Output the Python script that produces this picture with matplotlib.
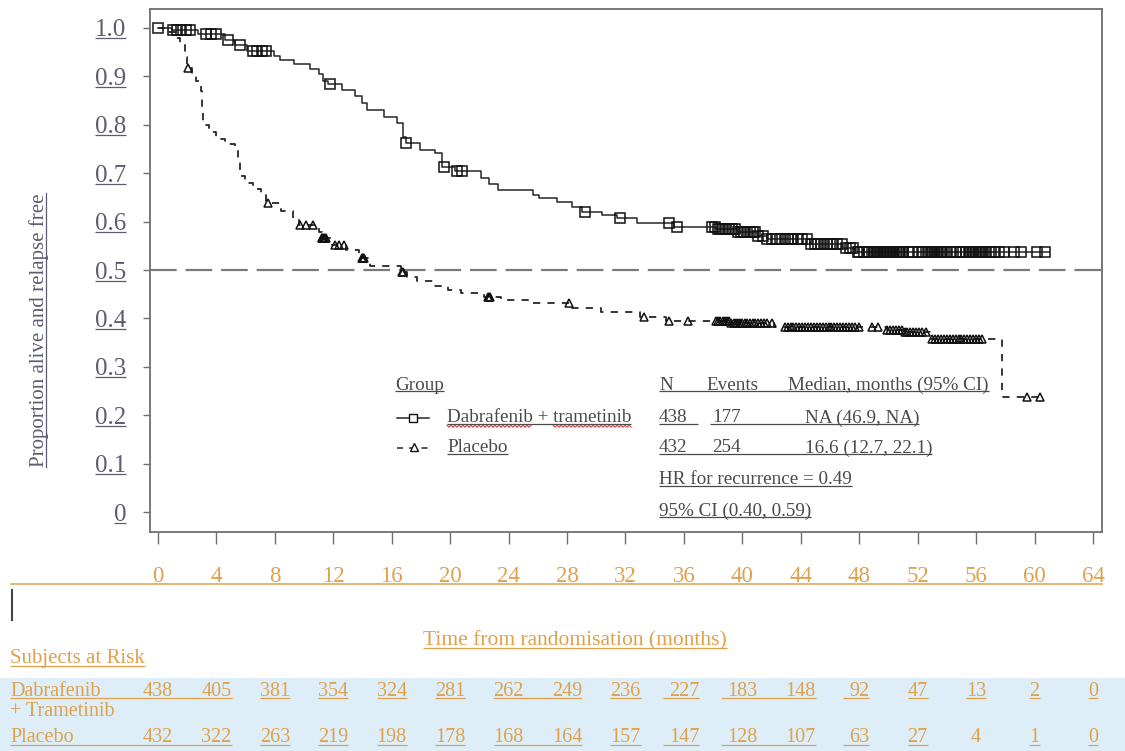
import numpy as np
import matplotlib
matplotlib.use("Agg")
import matplotlib.pyplot as plt
from matplotlib.lines import Line2D
from matplotlib.patches import Rectangle
from matplotlib.transforms import blended_transform_factory

plt.rcParams['font.family'] = ['Liberation Serif', 'DejaVu Serif']

# ---------------- data ----------------
dab_time = [0, 0.93, 2.71, 4.59, 5.28, 6.07, 7.95, 8.35, 9.33, 10.42,
            11.02, 11.31, 11.61, 12.6, 13.49, 13.98, 14.28, 15.47, 16.36, 16.75,
            16.95, 17.94, 18.93, 19.42, 20.31, 22.09, 22.69, 23.28, 25.65, 26.05,
            27.33, 28.32, 29.02, 30.4, 31.39, 32.77, 35.35, 38.21, 39.7, 40.98,
            41.68, 44.64, 46.92, 47.81, 60.96]
dab_surv = [1.0, 0.995, 0.987, 0.975, 0.964, 0.952, 0.942, 0.934, 0.925, 0.915,
            0.905, 0.89, 0.884, 0.872, 0.86, 0.845, 0.83, 0.816, 0.803, 0.775,
            0.762, 0.748, 0.742, 0.713, 0.705, 0.69, 0.678, 0.665, 0.655, 0.648,
            0.64, 0.63, 0.62, 0.614, 0.608, 0.598, 0.589, 0.585, 0.578, 0.57,
            0.564, 0.553, 0.545, 0.537, 0.537]
dab_censor = [0.0, 1.0, 1.3, 1.6, 1.9, 2.2, 3.3, 3.6, 4.0, 4.8, 5.6, 6.5, 6.8, 7.1, 7.4,
              11.8, 17.0, 19.6, 20.5, 20.8, 29.2, 31.6, 35.0, 35.5,
              37.9, 38.1, 38.3, 38.5, 38.7, 38.9, 39.1, 39.3, 39.5, 39.7, 39.9, 40.1,
              40.3, 40.5, 40.7, 40.9, 41.1, 41.4, 41.7, 42.0, 42.3, 42.6, 42.9, 43.1,
              43.3, 43.5, 43.8, 44.1, 44.4, 44.7, 45.0, 45.2, 45.4, 45.6, 45.8, 46.0,
              46.2, 46.5, 46.8, 47.1, 47.4, 47.6, 47.9,
              48.0, 48.3, 48.5, 48.7, 48.9, 49.0, 49.1, 49.2, 49.3, 49.4, 49.5, 49.6,
              49.7, 49.8, 49.9, 50.0, 50.1, 50.2, 50.3, 50.4, 50.5, 50.6, 50.7, 50.8,
              50.9, 51.0, 51.4, 51.7, 52.0, 52.3, 52.6, 52.8, 52.9, 53.0, 53.1, 53.2,
              53.3, 53.4, 53.5, 53.6, 53.7, 53.8, 54.0, 54.3, 54.6, 54.9, 55.1, 55.3,
              55.5, 55.6, 55.7, 55.8, 55.9, 56.0, 56.1, 56.2, 56.3, 56.4, 56.5, 56.7,
              57.0, 57.3, 57.6, 57.9, 58.6, 59.1, 60.2, 60.7]

pla_time = [0, 0.73, 1.13, 1.52, 1.82, 2.0, 2.3, 2.61, 2.91, 3.0,
            3.1, 3.5, 3.99, 4.59, 5.28, 5.48, 5.58, 5.97, 6.47, 7.06,
            7.4, 8.44, 9.23, 9.63, 11.02, 11.2, 11.91, 12.9, 13.79, 14.48,
            16.65, 17.05, 17.74, 18.83, 19.82, 20.71, 22.29, 23.48, 25.36, 28.32,
            30.3, 32.97, 34.75, 39.2, 42.17, 49.88, 51.07, 52.85, 57.8, 60.6]
pla_surv = [1.0, 0.992, 0.98, 0.965, 0.94, 0.918, 0.90, 0.89, 0.87, 0.83,
            0.80, 0.785, 0.77, 0.76, 0.75, 0.725, 0.695, 0.68, 0.667, 0.655,
            0.638, 0.622, 0.605, 0.593, 0.579, 0.566, 0.552, 0.541, 0.525, 0.509,
            0.496, 0.486, 0.478, 0.468, 0.458, 0.452, 0.445, 0.438, 0.432, 0.421,
            0.414, 0.404, 0.395, 0.39, 0.383, 0.376, 0.372, 0.357, 0.237, 0.237]
pla_censor = [2.05, 7.5, 9.7, 10.1, 10.6, 11.2, 11.25, 11.3, 11.35, 11.4, 11.5, 12.1,
              12.4, 12.7, 13.95, 14.0, 14.05, 14.1, 16.7, 16.8, 22.6, 22.65, 22.7,
              28.1, 33.3, 35.0, 36.3,
              38.2, 38.35, 38.5, 38.65, 38.8, 38.95, 39.1, 39.25, 39.4, 39.55, 39.7,
              39.85, 40.0, 40.15, 40.3, 40.5, 40.7, 40.9, 41.1, 41.3, 41.5, 41.7, 42.0,
              42.9, 43.1, 43.3, 43.5, 43.7, 43.9, 44.1, 44.3, 44.5, 44.7, 44.9, 45.1,
              45.3, 45.5, 45.7, 45.9, 46.1, 46.3, 46.5, 46.7, 46.9, 47.1, 47.3, 47.5,
              47.7, 48.0, 48.9, 49.3, 49.9, 50.1, 50.3, 50.5, 50.7, 50.9, 51.1, 51.3,
              51.5, 51.7, 51.9, 52.1, 52.3, 52.6, 53.0, 53.2, 53.4, 53.6, 53.8, 54.0,
              54.2, 54.4, 54.6, 54.8, 55.0, 55.2, 55.4, 55.6, 55.8, 56.0, 56.2, 56.4,
              59.5, 60.4]

x_ticks = [0, 4, 8, 12, 16, 20, 24, 28, 32, 36, 40, 44, 48, 52, 56, 60, 64]
y_ticks = [0, 0.1, 0.2, 0.3, 0.4, 0.5, 0.6, 0.7, 0.8, 0.9, 1.0]
y_tick_labels = ['0', '0.1', '0.2', '0.3', '0.4', '0.5', '0.6', '0.7', '0.8', '0.9', '1.0']

risk_times = [0, 4, 8, 12, 16, 20, 24, 28, 32, 36, 40, 44, 48, 52, 56, 60, 64]
risk_dab = [438, 405, 381, 354, 324, 281, 262, 249, 236, 227, 183, 148, 92, 47, 13, 2, 0]
risk_pla = [432, 322, 263, 219, 198, 178, 168, 164, 157, 147, 128, 107, 63, 27, 4, 1, 0]

group_names = ['Dabrafenib + trametinib', 'Placebo']
group_n = [438, 432]
group_events = [177, 254]
group_median = ['NA (46.9, NA)', '16.6 (12.7, 22.1)']
hr_text = 'HR for recurrence = 0.49'
ci_text = '95% CI (0.40, 0.59)'
median_ref = 0.5

# ---------------- style ----------------
ORANGE = '#DFA14C'
SLATE = '#5C5C72'
GTXT = '#4A4A4A'
LINE = '#262626'
SPINE = '#6E6E6E'
BLUE = '#DDEEF8'

W_PX, H_PX = 1125, 751
fig = plt.figure(figsize=(W_PX / 100, H_PX / 100), dpi=100)
fig.patch.set_facecolor('white')


def fx(px):
    return px / W_PX


def fy(py):
    return 1 - py / H_PX


def km_at(times, surv, t):
    idx = np.searchsorted(np.asarray(times), np.asarray(t), side='right') - 1
    return np.asarray(surv)[idx]


ax = fig.add_axes([fx(150), fy(532), fx(1102) - fx(150), fy(9) - fy(532)])
ax.set_xlim(-0.55, 64.62)
ax.set_ylim(-0.041, 1.039)

# reference line at 0.5
ax.axhline(median_ref, color='#7A7A7A', lw=1.6, dashes=(12, 4), zorder=1)

# curves
ax.plot(dab_time, dab_surv, drawstyle='steps-post', color=LINE, lw=1.1, zorder=3)
ax.plot(dab_censor, km_at(dab_time, dab_surv, dab_censor), ls='none', marker='s',
        ms=7.5, mfc='none', mec='#111111', mew=1.1, zorder=4)
ax.plot(pla_time, pla_surv, drawstyle='steps-post', color=LINE, lw=1.3,
        dashes=(4, 4), zorder=3)
ax.plot(pla_censor, km_at(pla_time, pla_surv, pla_censor), ls='none', marker='^',
        ms=6, mfc='none', mec='#111111', mew=1.1, zorder=4)

for s in ax.spines.values():
    s.set_color(SPINE)
    s.set_linewidth(1.3)

ax.set_xticks(x_ticks)
ax.set_xticklabels([str(v) for v in x_ticks])
ax.set_yticks(y_ticks)
ax.set_yticklabels(y_tick_labels)
ax.tick_params(axis='x', direction='out', length=8.5, width=1.0, color=SPINE,
               pad=16, labelsize=16.5, labelcolor=ORANGE)
ax.tick_params(axis='y', direction='out', length=5, width=1.0, color=SPINE,
               pad=12, labelsize=18, labelcolor=SLATE)

# y label
ylab = fig.text(fx(39), fy(330), 'Proportion alive and relapse free', rotation=90,
                ha='center', va='center', fontsize=15, color=SLATE)

# ---------------- legend / stats box ----------------
FS = 13.8
t_group = fig.text(fx(395), fy(385), 'Group', fontsize=FS, color=GTXT, va='center')
t_dab = fig.text(fx(447), fy(418), group_names[0], fontsize=FS, color=GTXT, va='center')
t_pla = fig.text(fx(447), fy(448), group_names[1], fontsize=FS, color=GTXT, va='center')

fig.add_artist(Line2D([fx(397), fx(429)], [fy(418)] * 2, color=LINE, lw=1.1,
                      transform=fig.transFigure))
fig.add_artist(Line2D([fx(413)], [fy(418)], ls='none', marker='s', ms=6, mfc='white',
                      mec='#111111', mew=1.0, transform=fig.transFigure))
fig.add_artist(Line2D([fx(397), fx(431)], [fy(448)] * 2, color=LINE, lw=1.1,
                      dashes=(4, 4), transform=fig.transFigure))
fig.add_artist(Line2D([fx(414)], [fy(447)], ls='none', marker='^', ms=6, mfc='white',
                      mec='#111111', mew=1.0, transform=fig.transFigure))

t_hn = fig.text(fx(659), fy(385), 'N', fontsize=FS, color=GTXT, va='center')
t_he = fig.text(fx(706), fy(385), 'Events', fontsize=FS, color=GTXT, va='center')
t_hm = fig.text(fx(788), fy(385), 'Median, months (95% CI)', fontsize=FS, color=GTXT,
                va='center')
row_y = [418, 448]
stat_rows = []
for i in range(2):
    a = fig.text(fx(659), fy(row_y[i]), str(group_n[i]), fontsize=FS, color=GTXT, va='center')
    b = fig.text(fx(712), fy(row_y[i]), str(group_events[i]), fontsize=FS, color=GTXT,
                 va='center')
    c = fig.text(fx(805), fy(row_y[i]), group_median[i], fontsize=FS, color=GTXT,
                 va='center')
    stat_rows.append((a, b, c))
t_hr = fig.text(fx(659), fy(480), hr_text, fontsize=FS, color=GTXT, va='center')
t_ci = fig.text(fx(659), fy(511), ci_text, fontsize=FS, color=GTXT, va='center')

# ---------------- bottom area ----------------
fig.add_artist(Rectangle((0, 0), 1, fy(678), transform=fig.transFigure,
                         facecolor=BLUE, edgecolor='none', zorder=-10))
fig.add_artist(Line2D([fx(12), fx(12)], [fy(590), fy(620)], color='#444444', lw=1.5,
                      transform=fig.transFigure))

t_xlab = fig.text(fx(575), fy(641), 'Time from randomisation (months)', fontsize=15.5,
                  color=ORANGE, ha='center', va='center')
t_sar = fig.text(fx(10), fy(659), 'Subjects at Risk', fontsize=15, color=ORANGE,
                 va='center')

RFS = 14.5
t_r1a = fig.text(fx(10), fy(691), 'Dabrafenib', fontsize=RFS, color=ORANGE, va='center')
t_r1b = fig.text(fx(10), fy(711), '+ Trametinib', fontsize=RFS, color=ORANGE, va='center')
t_r2 = fig.text(fx(10), fy(738), 'Placebo', fontsize=RFS, color=ORANGE, va='center')

trans = blended_transform_factory(ax.transData, fig.transFigure)
risk1 = [ax.text(t, fy(691), str(v), transform=trans, ha='center', va='center',
                 fontsize=RFS, color=ORANGE, clip_on=False)
         for t, v in zip(risk_times, risk_dab)]
risk2 = [ax.text(t, fy(738), str(v), transform=trans, ha='center', va='center',
                 fontsize=RFS, color=ORANGE, clip_on=False)
         for t, v in zip(risk_times, risk_pla)]

# ---------------- underlines (need layout) ----------------
fig.canvas.draw()
renderer = fig.canvas.get_renderer()
FW, FH = fig.bbox.width, fig.bbox.height


def disp_line(x0, x1, y, color, lw=0.9):
    fig.add_artist(Line2D([x0 / FW, x1 / FW], [y / FH] * 2, transform=fig.transFigure,
                          color=color, lw=lw, solid_capstyle='butt'))


def ul_y(t, bb):
    em = t.get_fontsize() * fig.dpi / 72.0
    return bb.y0 + 0.12 * em


def underline(t, color, ext_left=0.0, ext_right=0.0):
    bb = t.get_window_extent(renderer)
    disp_line(bb.x0 - ext_left, bb.x1 + ext_right, ul_y(t, bb), color)


def underline_span(ta, tb, color, ext_left=0.0):
    ba = ta.get_window_extent(renderer)
    bb = tb.get_window_extent(renderer)
    disp_line(ba.x0 - ext_left, bb.x1, min(ul_y(ta, ba), ul_y(tb, bb)), color)


for lbl in ax.get_yticklabels():
    underline(lbl, SLATE)

# y label underline (vertical, on the baseline side)
bb = ylab.get_window_extent(renderer)
em = ylab.get_fontsize() * fig.dpi / 72.0
xu = bb.x1 - 0.12 * em
fig.add_artist(Line2D([xu / FW] * 2, [bb.y0 / FH, bb.y1 / FH], transform=fig.transFigure,
                      color=SLATE, lw=0.9))

# x tick label long underline
xl_bbs = [l.get_window_extent(renderer) for l in ax.get_xticklabels()]
yu = min(ul_y(ax.get_xticklabels()[0], b) for b in xl_bbs)
disp_line(fx(10) * FW, fx(1103) * FW, yu, ORANGE, lw=1.1)

underline(t_xlab, ORANGE)
underline(t_sar, ORANGE)

# legend underlines
underline(t_group, GTXT)
underline(t_dab, GTXT)
underline(t_pla, GTXT)
underline_span(t_hn, t_hm, GTXT)
underline(stat_rows[0][0], GTXT, ext_right=10)
underline_span(stat_rows[0][1], stat_rows[0][2], GTXT, ext_left=2)
underline_span(stat_rows[1][0], stat_rows[1][2], GTXT)
underline(t_hr, GTXT)
underline(t_ci, GTXT)

# red spell-check squiggles under 'Dabrafenib' and 'trametinib'
bbd = t_dab.get_window_extent(renderer)
tmp = fig.text(0, 0, 'Dabrafenib', fontsize=FS)
w_first = tmp.get_window_extent(renderer).width
tmp.set_text('trametinib')
w_last = tmp.get_window_extent(renderer).width
tmp.remove()
ysq = ul_y(t_dab, bbd) - 2.0
for xa, xb in [(bbd.x0, bbd.x0 + w_first), (bbd.x1 - w_last, bbd.x1)]:
    xs = np.arange(xa, xb, 2.0)
    ys = ysq + np.where(np.arange(len(xs)) % 2 == 0, 1.0, -1.0)
    fig.add_artist(Line2D(xs / FW, ys / FH, transform=fig.transFigure,
                          color='#D23C3C', lw=0.8))

# risk table underlines
underline_span(t_r1a, risk1[1], ORANGE)
underline_span(t_r2, risk2[1], ORANGE)
for rowt in (risk1, risk2):
    skip = {0, 1, 6, 7, 10, 11}
    underline_span(rowt[6], rowt[7], ORANGE)
    underline_span(rowt[10], rowt[11], ORANGE, ext_left=6)
    for i, t in enumerate(rowt):
        if i in skip:
            continue
        if rowt is risk2 and i == 14:
            continue
        underline(t, ORANGE, ext_left=6 if i in (9, 12) else 0)

fig.savefig('out.png', dpi=100)
